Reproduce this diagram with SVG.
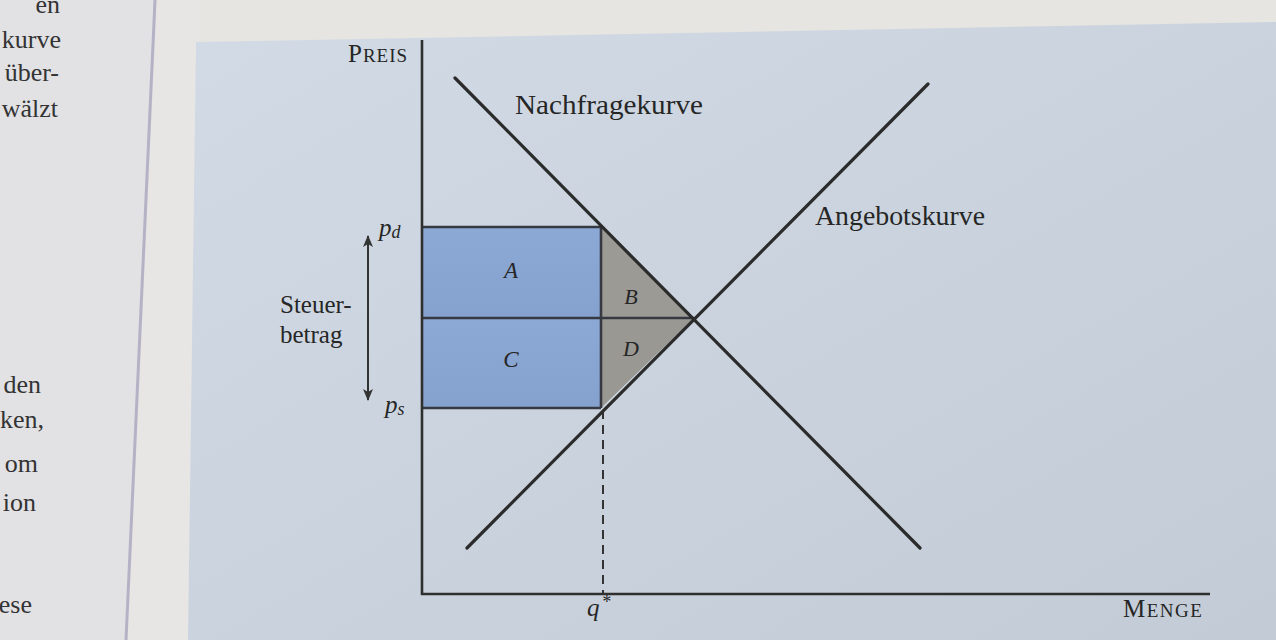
<svg xmlns="http://www.w3.org/2000/svg" width="1276" height="640" viewBox="0 0 1276 640">
<style>
.serif{font-family:"Liberation Serif","Times New Roman",serif;fill:#262626}
.it{font-style:italic}
.curve{stroke:#2b2b2b;stroke-width:3.2;fill:none;stroke-linecap:round}
.axis{stroke:#2f2f2f;stroke-width:2.6;fill:none}
.edge{stroke:#363941;stroke-width:2.6;fill:none}
.page{font-family:"Liberation Serif","Times New Roman",serif;font-size:26px;fill:#333}
</style>
<defs>
<linearGradient id="boxg" x1="0" y1="0" x2="1" y2="1">
<stop offset="0" stop-color="#d2dbe5"/>
<stop offset="1" stop-color="#c3ccd6"/>
</linearGradient>
<linearGradient id="blueg" x1="0" y1="0" x2="0" y2="1">
<stop offset="0" stop-color="#8ca8d5"/>
<stop offset="1" stop-color="#85a1ce"/>
</linearGradient>
<marker id="ah" viewBox="0 0 12 10" refX="11" refY="5" markerWidth="12" markerHeight="10" markerUnits="userSpaceOnUse" orient="auto-start-reverse">
<path d="M0,0 L12,5 L0,10 L3,5 Z" fill="#333"/>
</marker>
</defs>

<g id="background">
<rect x="0" y="0" width="1276" height="640" fill="#e6e5e1"/>
<rect x="0" y="0" width="160" height="640" fill="#e2e2e5"/>
<polygon points="157,0 200,0 196,640 127,640" fill="#e7e6e4"/>
<line x1="155" y1="0" x2="126" y2="640" stroke="#b6b2c6" stroke-width="3"/>
<polygon points="196,42 1276,22 1276,640 188,640" fill="url(#boxg)"/>
</g>

<g id="left-page-text" class="page">
<text x="60" y="13" text-anchor="end">en</text>
<text x="61" y="48" text-anchor="end">kurve</text>
<text x="59" y="81" text-anchor="end">über-</text>
<text x="58" y="117" text-anchor="end">wälzt</text>
<text x="41" y="393" text-anchor="end">den</text>
<text x="44" y="428" text-anchor="end">ken,</text>
<text x="38" y="472" text-anchor="end">om</text>
<text x="36" y="511" text-anchor="end">ion</text>
<text x="32" y="613" text-anchor="end">ese</text>
</g>

<g id="areas">
<g id="area-A"><rect x="422" y="227" width="179" height="91" fill="url(#blueg)"/></g>
<g id="area-C"><rect x="422" y="318" width="179" height="90" fill="url(#blueg)"/></g>
<g id="area-B"><polygon points="601,227 694,318 601,318" fill="#9c9a95"/></g>
<g id="area-D"><polygon points="601,318 694,318 601,408" fill="#9a9893"/></g>
</g>

<g id="connectors">
<line class="edge" x1="422" y1="227" x2="601" y2="227"/>
<line class="edge" x1="422" y1="318" x2="694" y2="318"/>
<line class="edge" x1="422" y1="408" x2="601" y2="408"/>
<line class="edge" x1="601" y1="227" x2="601" y2="408"/>
<line x1="603" y1="410" x2="603" y2="593" stroke="#333" stroke-width="2" stroke-dasharray="9,6"/>
<line class="axis" x1="422" y1="40" x2="422" y2="595"/>
<line class="axis" x1="421" y1="594" x2="1210" y2="594"/>
<line id="nachfrage" class="curve" x1="455" y1="78" x2="920" y2="548"/>
<line id="angebot" class="curve" x1="467" y1="548" x2="928" y2="84"/>
<line x1="368" y1="236" x2="368" y2="400" stroke="#333" stroke-width="2" marker-start="url(#ah)" marker-end="url(#ah)"/>
</g>

<g id="labels" class="serif">
<text x="348" y="62" font-size="25" letter-spacing="1">P<tspan font-size="19">REIS</tspan></text>
<text x="1123" y="617" font-size="25" letter-spacing="1.5">M<tspan font-size="19">ENGE</tspan></text>
<text x="515" y="114" font-size="28" textLength="188" lengthAdjust="spacingAndGlyphs">Nachfragekurve</text>
<text x="815" y="225" font-size="28" textLength="170" lengthAdjust="spacingAndGlyphs">Angebotskurve</text>
<text x="280" y="313" font-size="25">Steuer-</text>
<text x="280" y="343" font-size="25">betrag</text>
<text class="it" x="379" y="236" font-size="25">p<tspan font-size="18" dy="2">d</tspan></text>
<text class="it" x="385" y="413" font-size="25">p<tspan font-size="18" dy="2">s</tspan></text>
<text class="it" x="587" y="616" font-size="25">q<tspan font-size="18" dx="2" dy="-8">*</tspan></text>
<text class="it" x="511" y="278" font-size="23" text-anchor="middle">A</text>
<text class="it" x="631" y="304" font-size="22" text-anchor="middle">B</text>
<text class="it" x="511" y="367" font-size="23" text-anchor="middle">C</text>
<text class="it" x="631" y="356" font-size="22" text-anchor="middle">D</text>
</g>
</svg>
